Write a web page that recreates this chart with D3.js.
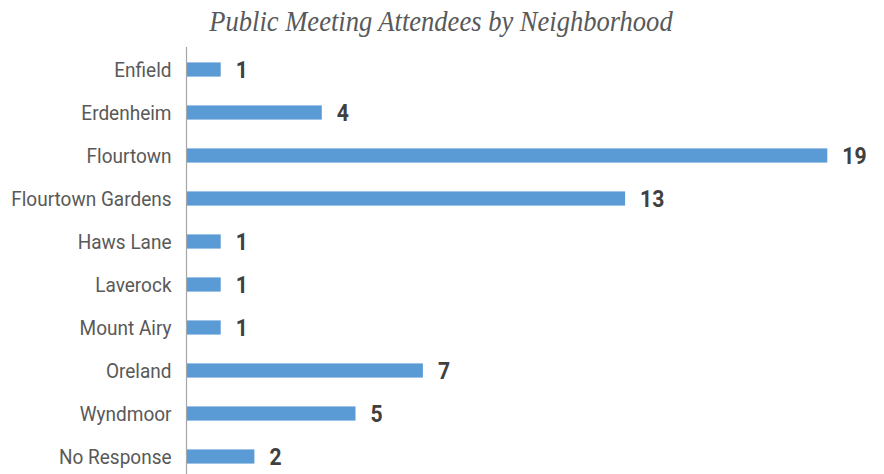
<!DOCTYPE html>
<html>
<head>
<meta charset="utf-8">
<script src="https://cdn.jsdelivr.net/npm/d3@7"></script>
<style>
  html, body { margin: 0; padding: 0; background: #fff; }
  .cat { font-family: "Roboto", "DejaVu Sans Condensed", sans-serif; font-size: 21px; fill: #595959; }
  .val { font-family: "Roboto", "DejaVu Sans Condensed", sans-serif; font-size: 24px; font-weight: bold; fill: #404040; }
  .title { font-family: "Liberation Serif", "DejaVu Serif", serif; font-style: italic; font-size: 30px; fill: #595959; }
</style>
</head>
<body>
<svg id="chart" width="884" height="474"></svg>
<script>
const neighborhoods = ["Enfield", "Erdenheim", "Flourtown", "Flourtown Gardens", "Haws Lane",
                       "Laverock", "Mount Airy", "Oreland", "Wyndmoor", "No Response"];
const attendees = [1, 4, 19, 13, 1, 1, 1, 7, 5, 2];
const chartTitle = "Public Meeting Attendees by Neighborhood";

const width = 884, height = 474;
const margin = { top: 48, left: 187 };

// horizontal squeeze that gives the regular faces a condensed look
function condense(factor) {
  return sel => sel.each(function () {
    const t = d3.select(this);
    const ax = +t.attr("x") || 0;
    t.attr("transform", `translate(${ax},0) scale(${factor},1) translate(${-ax},0)`);
  });
}

const svg = d3.select("#chart");

const x = d3.scaleLinear()
  .domain([0, 19])
  .range([margin.left, margin.left + 33.7 * 19]);

const y = d3.scaleBand()
  .domain(neighborhoods)
  .range([margin.top, margin.top + 43 * neighborhoods.length])
  .paddingInner(0.67)
  .paddingOuter(0.335);

svg.append("text")
  .attr("class", "title")
  .attr("x", 441)
  .attr("y", 31)
  .attr("text-anchor", "middle")
  .text(chartTitle)
  .call(condense(0.885));

const data = neighborhoods.map((n, i) => ({ name: n, value: attendees[i] }));

svg.selectAll("rect.bar")
  .data(data)
  .join("rect")
  .attr("class", "bar")
  .attr("x", x(0))
  .attr("y", d => y(d.name))
  .attr("width", d => x(d.value) - x(0))
  .attr("height", y.bandwidth())
  .attr("fill", "#5b9bd5");

// category axis on the left
const yAxis = d3.axisLeft(y).tickSize(0).tickPadding(15);
const g = svg.append("g")
  .attr("transform", `translate(${x(0) - 0.5},0)`)
  .call(yAxis);
g.select(".domain").attr("stroke", "#a6a6a6").attr("stroke-width", 1.2)
  .attr("d", `M0,${margin.top - 1}V${height}`);
g.selectAll(".tick text")
  .attr("class", "cat")
  .attr("font-size", null).attr("font-family", null).attr("fill", null)
  .attr("dy", "0.35em")
  .call(condense(0.905));

svg.selectAll("text.val")
  .data(data)
  .join("text")
  .attr("class", "val")
  .attr("x", d => x(d.value) + 15)
  .attr("y", d => y(d.name) + y.bandwidth() / 2)
  .attr("dy", "0.36em")
  .text(d => d.value)
  .call(condense(0.88));
</script>
</body>
</html>
